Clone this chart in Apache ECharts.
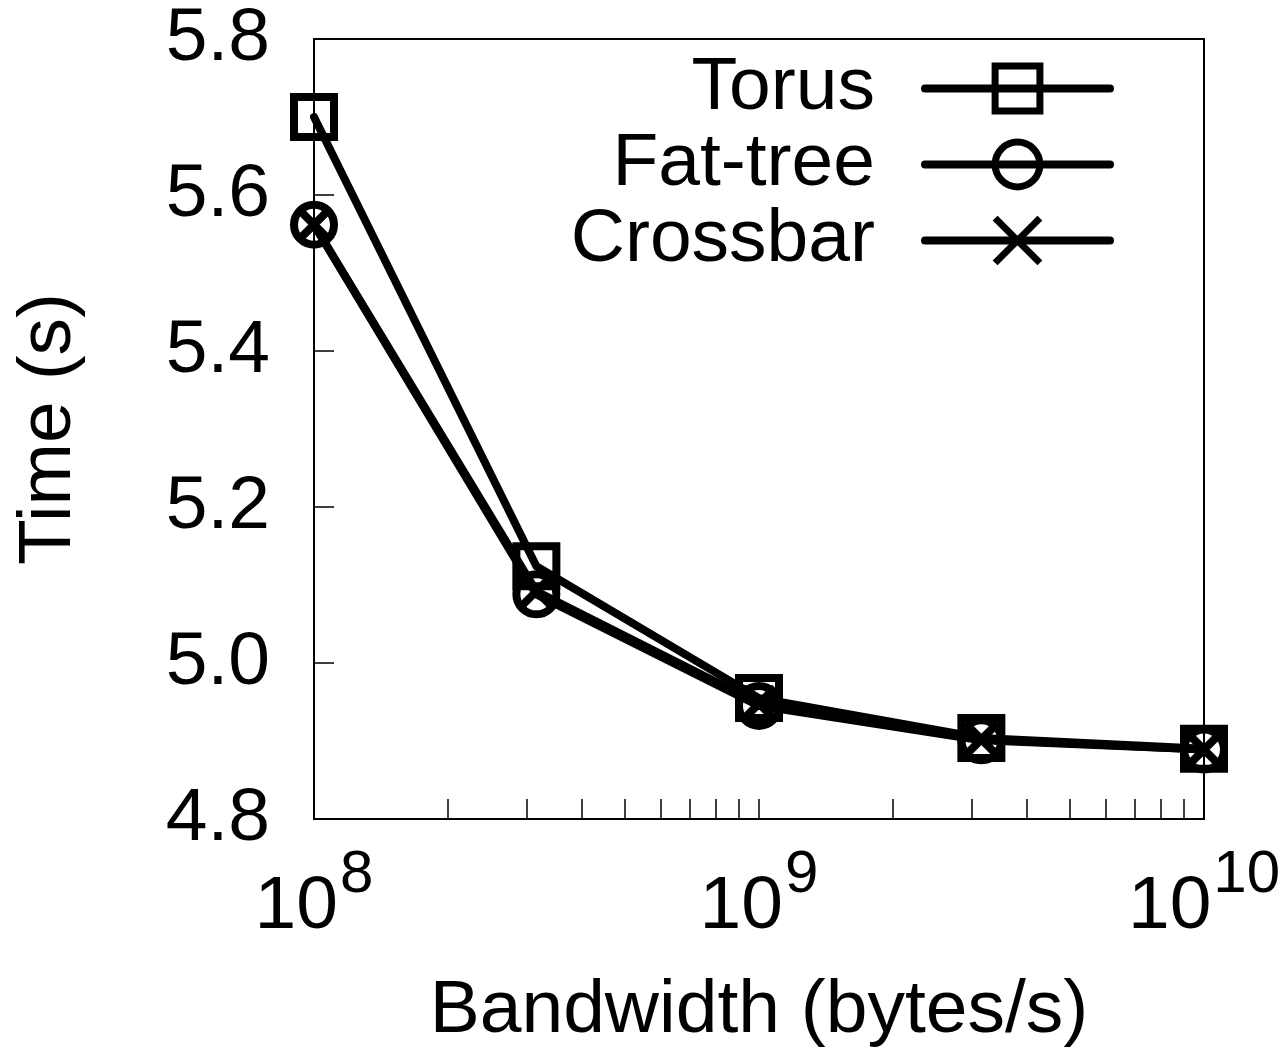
<!DOCTYPE html>
<html>
<head>
<meta charset="utf-8">
<script src="https://cdn.jsdelivr.net/npm/echarts@6/dist/echarts.min.js"></script>
<style>
html,body{margin:0;padding:0;background:#fff;}
#chart{width:1282px;height:1050px;}
</style>
</head>
<body>
<div id="chart"></div>
<script>
const bandwidth = [1e8, 3.16e8, 1e9, 3.16e9, 1e10];
const torus = [5.700, 5.124, 4.955, 4.904, 4.890];
const fatTree = [5.562, 5.088, 4.945, 4.901, 4.889];
const crossbar = [5.562, 5.092, 4.948, 4.902, 4.889];
const xLabelValues = [1e8, 1e9, 1e10];
const xTickValues = [1e8, 2e8, 3e8, 4e8, 5e8, 6e8, 7e8, 8e8, 9e8, 1e9, 2e9, 3e9, 4e9, 5e9, 6e9, 7e9, 8e9, 9e9, 1e10];
const seriesNames = ['Torus', 'Fat-tree', 'Crossbar'];

const FONT = 'Liberation Sans';
const FS = 75;
const crossPath = 'path://M0,0L10,10M10,0L0,10';

function pairs(vals) { return bandwidth.map((b, i) => [b, vals[i]]); }

function mkSeries(name, vals, symbol, size, bw) {
  return {
    name: name, type: 'line', data: pairs(vals),
    symbol: symbol, symbolSize: size, showSymbol: true,
    lineStyle: { color: '#000', width: 8, cap: 'round', join: 'round' },
    itemStyle: { color: 'rgba(0,0,0,0)', borderColor: '#000', borderWidth: bw },
    emphasis: { disabled: true },
    z: 3
  };
}

const chart = echarts.init(document.getElementById('chart'), null, { renderer: 'canvas' });
chart.setOption({
  backgroundColor: '#fff',
  animation: false,
  textStyle: { fontFamily: FONT, color: '#000' },
  grid: { left: 314, top: 39, right: 78, bottom: 231, containLabel: false, outerBoundsMode: 'none', show: true, borderColor: '#000', borderWidth: 2, backgroundColor: 'transparent' },
  legend: {
    orient: 'vertical', right: 163, top: 46, align: 'right',
    itemWidth: 185, itemHeight: 56, itemGap: 1,
    textStyle: { fontFamily: FONT, fontSize: FS, color: '#000', lineHeight: 75, padding: [0, 45, 0, 0] },
    itemStyle: { borderWidth: 7, borderColor: '#000', color: 'rgba(0,0,0,0)' },
    lineStyle: { width: 8, color: '#000' },
    data: seriesNames, selectedMode: false
  },
  xAxis: {
    type: 'log', logBase: 10, min: 1e8, max: 1e10,
    name: 'Bandwidth (bytes/s)', nameLocation: 'middle', nameGap: 155,
    nameTextStyle: { fontFamily: FONT, fontSize: FS, color: '#000' },
    axisLine: { lineStyle: { color: '#000', width: 2 } },
    axisTick: { inside: true, length: 20, lineStyle: { color: '#000', width: 1.5 }, customValues: xTickValues },
    minorTick: { show: false },
    splitLine: { show: false },
    axisLabel: {
      customValues: xLabelValues, margin: 51,
      formatter: function (v) { return '{b|10}{s|' + Math.round(Math.log10(v)) + '}'; },
      rich: {
        b: { fontFamily: FONT, fontSize: FS, color: '#000', lineHeight: 75, verticalAlign: 'bottom' },
        s: { fontFamily: FONT, fontSize: 60, color: '#000', lineHeight: 60, verticalAlign: 'bottom', padding: [0, 0, 40, 2] }
      }
    }
  },
  yAxis: {
    type: 'value', min: 4.8, max: 5.8, interval: 0.2,
    name: 'Time (s)', nameLocation: 'middle', nameGap: 227, nameRotate: 90,
    nameTextStyle: { fontFamily: FONT, fontSize: FS, color: '#000' },
    axisLine: { show: true, lineStyle: { color: '#000', width: 2 } },
    axisTick: { show: true, inside: true, length: 20, lineStyle: { color: '#000', width: 1.5 } },
    splitLine: { show: false },
    axisLabel: { margin: 44, fontFamily: FONT, fontSize: FS, color: '#000', formatter: v => v.toFixed(1) }
  },
  series: [
    mkSeries('Torus', torus, 'rect', 40, 8),
    mkSeries('Fat-tree', fatTree, 'circle', 40, 8),
    mkSeries('Crossbar', crossbar, crossPath, 32, 8)
  ]
});
</script>
</body>
</html>
